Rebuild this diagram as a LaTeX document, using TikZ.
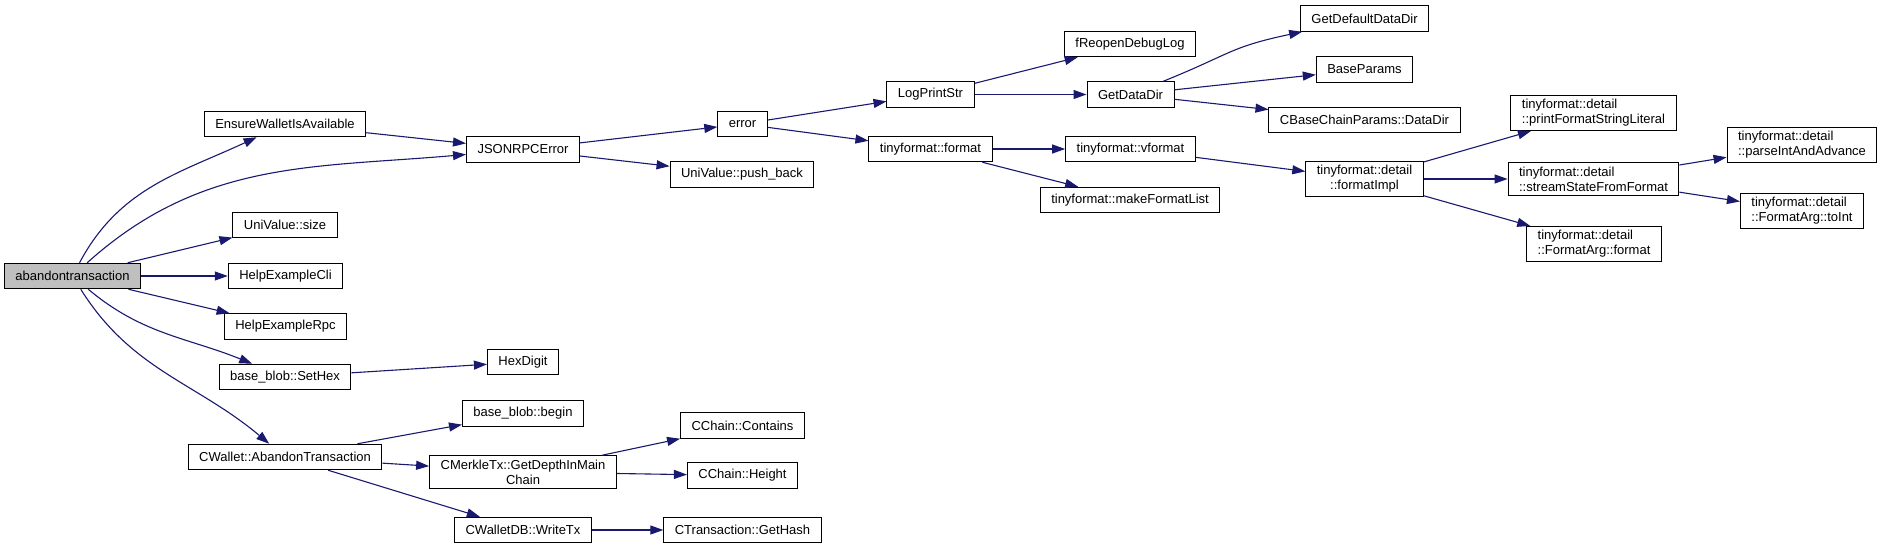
\documentclass[tikz,border=0pt]{standalone}
\usepackage{fontspec}
\setmainfont{Liberation Sans}
\usetikzlibrary{arrows.meta}
\definecolor{edgeblue}{RGB}{25,25,112}
\definecolor{rootgray}{RGB}{191,191,191}

\begin{document}
\begin{tikzpicture}[x=1pt, y=-1pt, >={Triangle[length=13pt,width=9pt]},
  fn/.style={draw, line width=1pt, fill=white, inner xsep=11pt, inner ysep=4pt,
    minimum height=25.5pt, font=\fontsize{13pt}{15pt}\selectfont},
  root/.style={fn, fill=rootgray},
  call/.style={->, draw=edgeblue, line width=1.1pt}]
  \useasboundingbox (0,0) rectangle (1881,549);
  % first column
  \node[root] (ab) at (72.5,276) {abandontransaction};
  % second column
  \node[fn] (ewa) at (285,124) {EnsureWalletIsAvailable};
  \node[fn] (uvs) at (285,225) {UniValue::size};
  \node[fn] (hcli) at (285.5,276) {HelpExampleCli};
  \node[fn] (hrpc) at (285.5,326.5) {HelpExampleRpc};
  \node[fn] (sethex) at (285,377) {base\_blob::SetHex};
  \node[fn] (cwat) at (285,457) {CWallet::AbandonTransaction};
  % third column
  \node[fn] (jre) at (523,149.5) {JSONRPCError};
  \node[fn] (hexd) at (523,362) {HexDigit};
  \node[fn] (bbegin) at (523,413.5) {base\_blob::begin};
  \node[fn, align=center] (depth) at (523,472) {CMerkleTx::GetDepthInMain\\Chain};
  \node[fn] (writetx) at (523,530) {CWalletDB::WriteTx};
  % fourth column
  \node[fn] (err) at (742.5,124) {error};
  \node[fn] (pushb) at (742,174.5) {UniValue::push\_back};
  \node[fn] (contains) at (742.5,425.5) {CChain::Contains};
  \node[fn] (height) at (742.5,475.5) {CChain::Height};
  \node[fn] (gethash) at (742.5,530) {CTransaction::GetHash};
  % fifth column
  \node[fn] (logp) at (930.5,94.5) {LogPrintStr};
  \node[fn] (tfmt) at (930.5,149) {tinyformat::format};
  % sixth column
  \node[fn] (freop) at (1130,44) {fReopenDebugLog};
  \node[fn] (gdd) at (1130.5,94.5) {GetDataDir};
  \node[fn] (vfmt) at (1130.5,149) {tinyformat::vformat};
  \node[fn] (mfl) at (1130,200) {tinyformat::makeFormatList};
  % seventh column
  \node[fn] (gdefd) at (1364.5,18.5) {GetDefaultDataDir};
  \node[fn] (bparams) at (1364.5,69.5) {BaseParams};
  \node[fn] (cbcp) at (1364.5,120) {CBaseChainParams::DataDir};
  \node[fn, align=center] (fimpl) at (1364.5,179) {tinyformat::detail\\::formatImpl};
  % eighth column
  \node[fn, align=left] (pfsl) at (1593.5,113) {tinyformat::detail\\::printFormatStringLiteral};
  \node[fn, align=left] (sssf) at (1593.5,179) {tinyformat::detail\\::streamStateFromFormat};
  \node[fn, align=left] (fafmt) at (1594,244) {tinyformat::detail\\::FormatArg::format};
  % ninth column
  \node[fn, align=left] (piaa) at (1802,145) {tinyformat::detail\\::parseIntAndAdvance};
  \node[fn, align=left] (toint) at (1802,211) {tinyformat::detail\\::FormatArg::toInt};

  % calls
  \draw[call] (ab) to[out=62,in=-155] (ewa);
  \draw[call] (ab) to[out=42,in=-175] (jre);
  \draw[call] (ab) -- (uvs);
  \draw[call] (ab) -- (hcli);
  \draw[call] (ab) -- (hrpc);
  \draw[call] (ab) to[out=-40,in=158] (sethex);
  \draw[call] (ab) to[out=-58,in=140] (cwat);
  \draw[call] (ewa) -- (jre);
  \draw[call] (jre) -- (err);
  \draw[call] (jre) -- (pushb);
  \draw[call] (err) -- (logp);
  \draw[call] (err) -- (tfmt);
  \draw[call] (logp) -- (freop);
  \draw[call] (logp) -- (gdd);
  \draw[call] (gdd) to[out=22,in=-168, looseness=1.3] (gdefd);
  \draw[call] (gdd) -- (bparams);
  \draw[call] (gdd) -- (cbcp);
  \draw[call] (tfmt) -- (vfmt);
  \draw[call] (tfmt) -- (mfl);
  \draw[call] (vfmt) -- (fimpl);
  \draw[call] (fimpl) -- (pfsl);
  \draw[call] (fimpl) -- (sssf);
  \draw[call] (fimpl) -- (fafmt);
  \draw[call] (sssf) -- (piaa);
  \draw[call] (sssf) -- (toint);
  \draw[call] (sethex) -- (hexd);
  \draw[call] (cwat) -- (bbegin);
  \draw[call] (cwat) -- (depth);
  \draw[call] (cwat) -- (writetx);
  \draw[call] (depth) -- (contains);
  \draw[call] (depth) -- (height);
  \draw[call] (writetx) -- (gethash);
\end{tikzpicture}
\end{document}
